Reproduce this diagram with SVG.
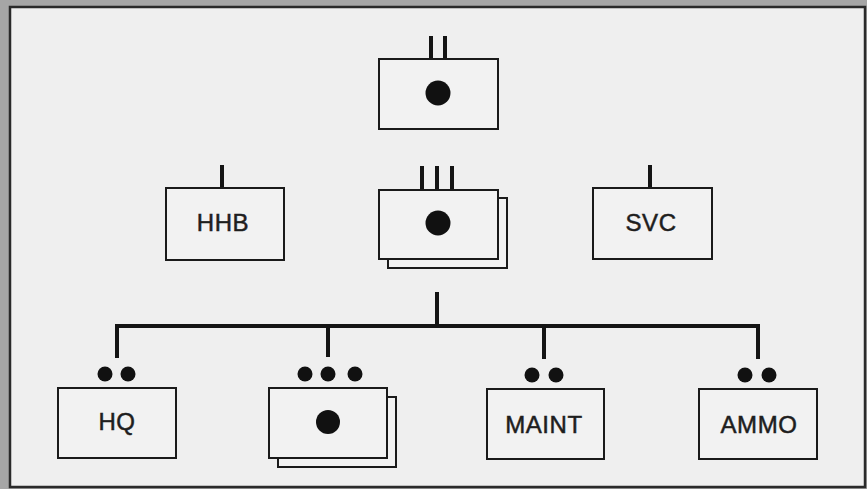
<svg xmlns="http://www.w3.org/2000/svg" width="867" height="489" viewBox="0 0 867 489">
<style>
.box{fill:#f2f2f2;stroke:#1a1a1a;stroke-width:2}
.back{fill:#f2f2f2;stroke:#1a1a1a;stroke-width:2}
.stem{stroke:#141414;stroke-width:4;fill:none}
.dot{fill:#111}
.lbl{font-family:"Liberation Sans",Arial,sans-serif;font-size:24px;fill:#1e1e1e;stroke:#1e1e1e;stroke-width:0.5;text-anchor:middle;letter-spacing:0.6px}
</style>
<rect x="0" y="0" width="867" height="489" fill="#a6a6a6"/>
<rect x="10" y="7" width="855" height="480" fill="#efefef" stroke="#2a2a2a" stroke-width="2.5"/>
<g id="connectors">
<line class="stem" x1="431" y1="36" x2="431" y2="59"/>
<line class="stem" x1="445" y1="36" x2="445" y2="59"/>
<line class="stem" x1="422" y1="166" x2="422" y2="190"/>
<line class="stem" x1="437" y1="166" x2="437" y2="190"/>
<line class="stem" x1="452" y1="166" x2="452" y2="190"/>
<line class="stem" x1="222" y1="165" x2="222" y2="188"/>
<line class="stem" x1="650" y1="165" x2="650" y2="188"/>
<line class="stem" x1="437" y1="292" x2="437" y2="326"/>
<polyline class="stem" points="117,358 117,326 758,326 758,359"/>
<line class="stem" x1="328" y1="326" x2="328" y2="357"/>
<line class="stem" x1="544" y1="326" x2="544" y2="359"/>
</g>
<g id="battalion">
<rect class="box" x="379" y="59" width="119" height="70"/>
<circle class="dot" cx="438" cy="93" r="12.5"/>
</g>
<g id="hhb">
<rect class="box" x="166" y="188" width="118" height="72"/>
<text class="lbl" x="223" y="231">HHB</text>
</g>
<g id="firing-batteries">
<rect class="back" x="388" y="198" width="119" height="70"/>
<rect class="box" x="379" y="190" width="119" height="69"/>
<circle class="dot" cx="438" cy="223" r="12.5"/>
</g>
<g id="svc">
<rect class="box" x="593" y="188" width="119" height="71"/>
<text class="lbl" x="651" y="231">SVC</text>
</g>
<g id="hq">
<circle class="dot" cx="105" cy="374" r="7.5"/>
<circle class="dot" cx="128" cy="374" r="7.5"/>
<rect class="box" x="58" y="388" width="118" height="70"/>
<text class="lbl" x="117" y="430">HQ</text>
</g>
<g id="firing-platoons">
<circle class="dot" cx="305" cy="374" r="7.5"/>
<circle class="dot" cx="328" cy="374" r="7.5"/>
<circle class="dot" cx="355" cy="374" r="7.5"/>
<rect class="back" x="278" y="397" width="118" height="70"/>
<rect class="box" x="269" y="388" width="118" height="70"/>
<circle class="dot" cx="328" cy="422" r="12"/>
</g>
<g id="maint">
<circle class="dot" cx="532" cy="375" r="7.5"/>
<circle class="dot" cx="556" cy="375" r="7.5"/>
<rect class="box" x="487" y="389" width="117" height="70"/>
<text class="lbl" x="544" y="433">MAINT</text>
</g>
<g id="ammo">
<circle class="dot" cx="745" cy="375" r="7.5"/>
<circle class="dot" cx="769" cy="375" r="7.5"/>
<rect class="box" x="699" y="389" width="118" height="70"/>
<text class="lbl" x="759" y="433">AMMO</text>
</g>
</svg>
